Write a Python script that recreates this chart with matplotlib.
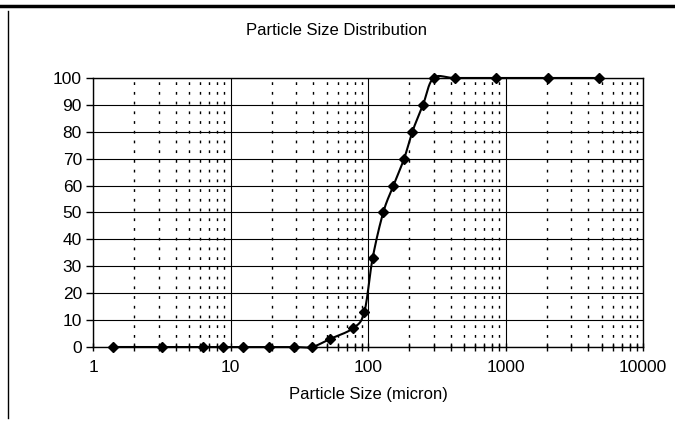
import numpy as np
import matplotlib.pyplot as plt
from matplotlib.ticker import LogLocator, FixedLocator, NullFormatter
from matplotlib.lines import Line2D

plt.rcParams['font.family'] = ['Liberation Sans', 'DejaVu Sans']

# --- 数据 ---
sizes = [1.4, 3.2, 6.3, 8.8, 12.3, 19, 29, 39, 53, 78, 94, 108, 129,
         153, 183, 210, 251, 300, 429, 853, 2049, 4810]
passing = [0, 0, 0, 0, 0, 0, 0, 0, 3, 7, 13, 33, 50,
           60, 70, 80, 90, 100, 100, 100, 100, 100]
y_ticks = [0, 10, 20, 30, 40, 50, 60, 70, 80, 90, 100]
x_ticks = [1, 10, 100, 1000, 10000]
x_labels = ['1', '10', '100', '1000', '10000']


# Excel 风格的平滑曲线 (Catmull-Rom, 在 log-x 空间)
def smooth(xs, ys, n=20):
    u = np.log10(xs)
    v = np.asarray(ys, dtype=float)
    pu = np.concatenate([[u[0]], u, [u[-1]]])
    pv = np.concatenate([[v[0]], v, [v[-1]]])
    out_u, out_v = [], []
    t = np.linspace(0, 1, n, endpoint=False)
    for i in range(1, len(pu) - 2):
        p0, p1, p2, p3 = pu[i - 1], pu[i], pu[i + 1], pu[i + 2]
        q0, q1, q2, q3 = pv[i - 1], pv[i], pv[i + 1], pv[i + 2]
        c1u, c1v = p1 + (p2 - p0) / 6, q1 + (q2 - q0) / 6
        c2u, c2v = p2 - (p3 - p1) / 6, q2 - (q3 - q1) / 6
        b = [(1 - t) ** 3, 3 * (1 - t) ** 2 * t, 3 * (1 - t) * t ** 2, t ** 3]
        out_u.append(b[0] * p1 + b[1] * c1u + b[2] * c2u + b[3] * p2)
        out_v.append(b[0] * q1 + b[1] * c1v + b[2] * c2v + b[3] * q2)
    out_u.append([u[-1]])
    out_v.append([v[-1]])
    return 10 ** np.concatenate(out_u), np.concatenate(out_v)


fig = plt.figure(figsize=(6.75, 4.22), dpi=100)
ax = fig.add_axes([0.1378, 0.1777, 0.8148, 0.6375])

ax.set_xscale('log')
ax.set_xlim(1, 10000)
ax.set_ylim(0, 100)

ax.xaxis.set_major_locator(FixedLocator(x_ticks))
ax.set_xticklabels(x_labels)
ax.xaxis.set_minor_locator(LogLocator(base=10, subs=np.arange(2, 10)))
ax.xaxis.set_minor_formatter(NullFormatter())
ax.set_yticks(y_ticks)

ax.grid(True, which='major', axis='both', color='black', lw=0.8)
ax.grid(True, which='minor', axis='x', color='black', lw=1.0,
        linestyle=(0, (2, 5)))

ax.tick_params(axis='x', which='both', direction='inout', length=6,
               width=1, labelsize=12.5, pad=6)
ax.tick_params(axis='y', which='major', direction='out', length=5,
               width=1, labelsize=12.5, pad=3)
for s in ax.spines.values():
    s.set_color('black')
    s.set_linewidth(1)

xs, ys = smooth(sizes, passing)
ax.plot(xs, ys, color='black', lw=1.5, clip_on=False, zorder=3)
ax.plot(sizes, passing, linestyle='none', marker='D', color='black',
        markersize=5.5, clip_on=False, zorder=4)

ax.set_xlabel('Particle Size (micron)', fontsize=12, labelpad=9)
fig.text(0.499, 0.927, 'Particle Size Distribution', ha='center',
         va='center', fontsize=12)

# 图表外框
fig.add_artist(Line2D([0, 1], [0.986, 0.986], color='black', lw=2.5,
                      transform=fig.transFigure))
fig.add_artist(Line2D([0.0125, 0.0125], [0.01, 0.975], color='black', lw=1,
                      transform=fig.transFigure))

fig.savefig('out.png', dpi=100)
